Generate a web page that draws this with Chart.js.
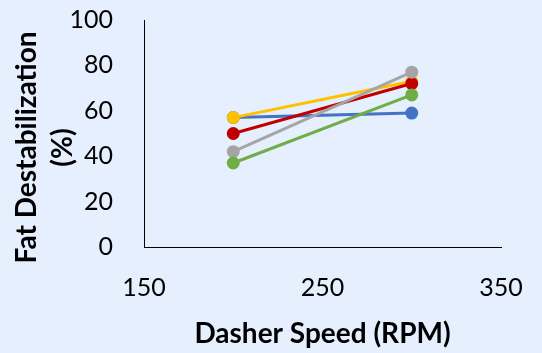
<!DOCTYPE html>
<html>
<head>
<meta charset="utf-8">
<script src="https://cdn.jsdelivr.net/npm/chart.js@4/dist/chart.umd.min.js"></script>
<style>
  html, body { margin: 0; padding: 0; background: #E6EFFD; }
  #wrap { width: 542px; height: 353px; }
</style>
</head>
<body>
<div id="wrap"><canvas id="chart" width="542" height="353"></canvas></div>
<script>
// Dasher speed (RPM) at which each formulation was measured
const speeds = [200, 300];

// Fat destabilization (%) per formulation
const seriesBlue   = [57, 59];
const seriesYellow = [57, 73];
const seriesRed    = [50, 72];
const seriesGray   = [42, 77];
const seriesGreen  = [37, 67];

// Axis tick settings
const xTicks = { min: 150, max: 350, step: 100 };
const yTicks = { min: 0, max: 100, step: 20 };

const xTitle = 'Dasher Speed (RPM)';
const yTitleLines = ['Fat Destabilization', '(%)'];

const FONT = 'Lato';

function points(values) {
  return values.map((v, i) => ({ x: speeds[i], y: v }));
}

function series(values, color) {
  return {
    data: points(values),
    borderColor: color,
    backgroundColor: color,
    pointBackgroundColor: color,
    pointBorderColor: color,
    borderWidth: 3,
    pointRadius: 5,
    pointHoverRadius: 5,
    tension: 0
  };
}

// Rotated two-line title for the value axis
const yAxisTitle = {
  id: 'yAxisTitle',
  afterDraw(chart) {
    const ctx = chart.ctx;
    const area = chart.chartArea;
    ctx.save();
    ctx.translate(27, area.top + (area.bottom - area.top) / 2 + 14);
    ctx.rotate(-Math.PI / 2);
    ctx.font = `bold 28px ${FONT}`;
    ctx.fillStyle = '#000';
    ctx.textAlign = 'center';
    ctx.textBaseline = 'middle';
    ctx.fillText(yTitleLines[0], 0, 0);
    ctx.fillText(yTitleLines[1], 0, 36);
    ctx.restore();
  }
};

// First dataset is painted last (on top)
new Chart(document.getElementById('chart'), {
  type: 'line',
  data: {
    datasets: [
      series(seriesGreen,  '#70AD47'),
      series(seriesGray,   '#A5A5A5'),
      series(seriesRed,    '#C00000'),
      series(seriesYellow, '#FFC000'),
      series(seriesBlue,   '#4472C4')
    ]
  },
  options: {
    responsive: false,
    animation: false,
    layout: { padding: { left: 0, right: 41, top: 20, bottom: 0 } },
    plugins: { legend: { display: false }, tooltip: { enabled: false } },
    scales: {
      x: {
        type: 'linear',
        min: xTicks.min,
        max: xTicks.max,
        afterFit(scale) { scale.height = 106; },
        // hidden tick marks keep the labels clear of the axis line
        grid: { display: false, drawTicks: true, tickLength: 26 },
        border: { display: true, color: '#000', width: 1 },
        ticks: {
          stepSize: xTicks.step,
          color: '#000',
          padding: 0,
          font: { family: FONT, size: 25 },
          maxRotation: 0
        },
        title: {
          display: true,
          text: xTitle,
          color: '#000',
          font: { family: FONT, size: 28, weight: 'bold' },
          padding: { top: 0, bottom: 2 }
        }
      },
      y: {
        min: yTicks.min,
        max: yTicks.max,
        afterFit(scale) { scale.width = 144; },
        grid: { display: false, drawTicks: true, tickLength: 31 },
        border: { display: true, color: '#000', width: 1 },
        ticks: {
          stepSize: yTicks.step,
          color: '#000',
          padding: 0,
          font: { family: FONT, size: 25 }
        }
      }
    }
  },
  plugins: [yAxisTitle]
});
</script>
</body>
</html>
